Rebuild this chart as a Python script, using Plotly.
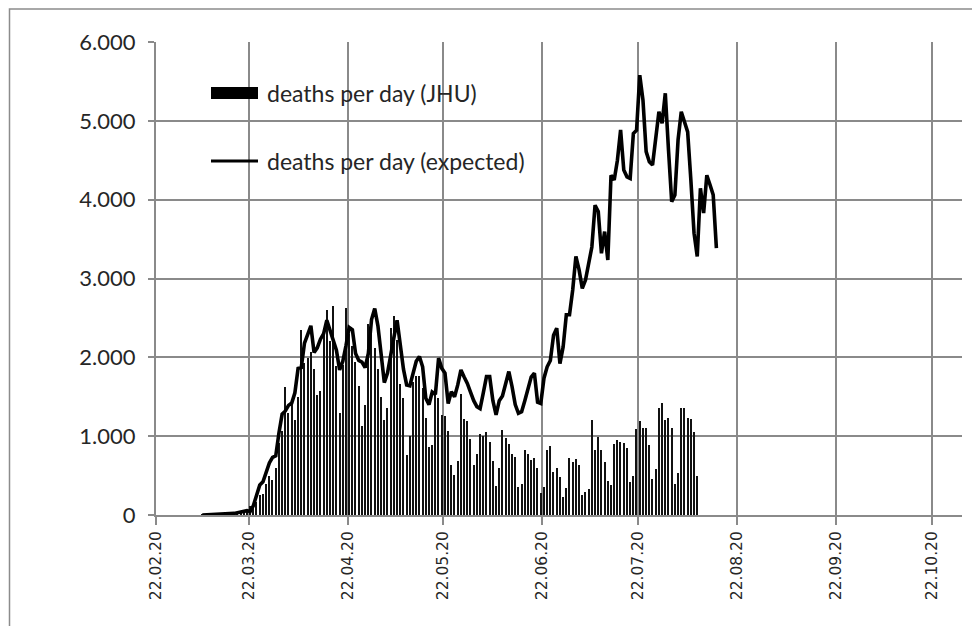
import pandas as pd
import plotly.graph_objects as go

# ---------------- data ----------------
bar_start = "2020-03-07"   # first bar (JHU deaths per day)
jhu_mar = [3, 4, 4, 4, 8, 7, 11, 12, 13, 23, 27, 36, 42, 57, 63, 111, 127, 169, 254, 272, 388, 493, 438, 590, 912]
jhu_apr = [1061, 1620, 1300, 1444, 1202, 1496, 2350, 1922, 1988, 2063, 1856, 1520, 1570, 2358, 2605, 2210, 2646, 1892, 1300, 1905,
           2623, 2294, 2140, 1943, 1637, 1127, 1395, 2418, 2464, 2117]
jhu_may = [1847, 1501, 1209, 1352, 2375, 2527, 2226, 1667, 1484, 765, 1008, 1693, 1759, 1758, 1605, 1236, 865, 887, 1552, 1485,
           1268, 1250, 1067, 634, 506, 691, 1536, 1220, 1197, 965, 638]
jhu_jun = [768, 1028, 1003, 1049, 920, 686, 373, 590, 1077, 978, 903, 780, 731, 358, 395, 830, 768, 697, 723, 593,
           276, 360, 825, 870, 550, 590, 486, 233, 347, 720]
jhu_jul = [677, 710, 635, 254, 288, 330, 1205, 825, 995, 825, 677, 430, 380, 897, 950, 930, 910, 855, 423, 495,
           1087, 1193, 1100, 1100, 888, 453, 580, 1354, 1417, 1205, 1235]
jhu_aug = [1100, 390, 530, 1354, 1354, 1235, 1218, 1057, 495]
jhu_values = jhu_mar + jhu_apr + jhu_may + jhu_jun + jhu_jul + jhu_aug

line_start = "2020-03-07"  # first point of expected deaths
expected_values = [
    0, 1, 2, 3, 4, 6, 8, 10, 12, 15, 20, 30, 40, 45, 55, 45,
    120, 250, 380, 420, 530, 660, 730, 750, 1040, 1280, 1320, 1390, 1420, 1550, 1860,
    1870, 2180, 2300, 2400, 2060, 2120, 2230, 2300, 2470, 2350, 2200, 2090, 1840, 1950, 2150,
    2380, 2350, 2050, 1960, 1940, 1870, 2050, 2480, 2620, 2400, 2000, 1680, 1800, 2000, 2250,
    2470, 2150, 1850, 1650, 1640, 1795, 1950, 2010, 1880, 1480, 1400, 1560, 1530, 1990, 1860,
    1800, 1415, 1565, 1500, 1650, 1840, 1750, 1670, 1560, 1450, 1375, 1350, 1550, 1755, 1755,
    1450, 1270, 1450, 1510, 1650, 1820, 1630, 1400, 1290, 1310, 1450, 1585, 1750, 1800, 1430,
    1415, 1735, 1880, 1960, 2280, 2370, 1920, 2130, 2540, 2540, 2855, 3280, 3110, 2875, 2980,
    3200, 3400, 3930, 3850, 3320, 3595, 3235, 4310, 4250, 4500, 4885, 4375, 4290, 4270, 4840,
    4880, 5580, 5265, 4610, 4480, 4440, 4800, 5115, 4970, 5350, 4630, 3975, 4060, 4760, 5115,
    5000, 4860, 4250, 3575, 3280, 4145, 3830, 4310, 4190, 4060, 3385,
]

series_names = ["deaths per day (JHU)", "deaths per day (expected)"]
y_ticks = [0, 1000, 2000, 3000, 4000, 5000, 6000]
x_range = ["2020-02-22", "2020-10-31 10:00"]
x_tick0 = "2020-02-22"

# dates (each day's value is centred in its day)
bar_dates = pd.date_range(bar_start, periods=len(jhu_values), freq="D") + pd.Timedelta(hours=12)
line_dates = pd.date_range(line_start, periods=len(expected_values), freq="D") + pd.Timedelta(hours=12)

# ---------------- figure ----------------
OFF = 8                      # page body margin of the html page
W, H = 980 - OFF, 626 - OFF
ML, MR, MT, MB = 156 - OFF, 18, 42 - OFF, 111
PW, PH = W - ML - MR, H - MT - MB

def px(x):   # window pixel -> paper fraction
    return (x - OFF - ML) / PW

def py(y):
    return (H - MB - (y - OFF)) / PH

GRID = "#8a8a8a"
TXT = "#262626"

fig = go.Figure()
fig.add_trace(go.Bar(
    x=bar_dates, y=jhu_values, name=series_names[0],
    width=0.38 * 86400000, marker=dict(color="#111111", line=dict(width=0)),
    showlegend=False,
))
fig.add_trace(go.Scatter(
    x=line_dates, y=expected_values, name=series_names[1], mode="lines",
    line=dict(color="#000000", width=3.6), showlegend=False,
))

# legend drawn in the style of the original (wide symbols)
shapes = [
    dict(type="rect", xref="paper", yref="paper", x0=px(211), x1=px(258), y0=py(99), y1=py(87),
         fillcolor="#000000", line=dict(width=0)),
    dict(type="line", xref="paper", yref="paper", x0=px(211), x1=px(258), y0=py(161), y1=py(161),
         line=dict(color="#000000", width=3)),
    # outer chart frame
    dict(type="rect", xref="paper", yref="paper", x0=px(9.5), x1=px(1000), y0=py(660), y1=py(9),
         line=dict(color="#8c8c8c", width=1.5), fillcolor="rgba(0,0,0,0)", layer="below"),
]
annotations = [
    dict(xref="paper", yref="paper", x=px(265), y=py(93), text=series_names[0], showarrow=False,
         xanchor="left", yanchor="middle", font=dict(family="Lato", size=23, color=TXT)),
    dict(xref="paper", yref="paper", x=px(265), y=py(161), text=series_names[1], showarrow=False,
         xanchor="left", yanchor="middle", font=dict(family="Lato", size=23, color=TXT)),
]

fig.update_layout(
    width=W, height=H,
    margin=dict(l=ML, r=MR, t=MT, b=MB, pad=0),
    paper_bgcolor="white", plot_bgcolor="white",
    separators=",.",
    bargap=0,
    shapes=shapes, annotations=annotations,
    showlegend=False,
    xaxis=dict(
        type="date", range=x_range, tick0=x_tick0, dtick="M1", tickformat="%d.%m.%y",
        tickangle=-90, showgrid=True, gridcolor=GRID, gridwidth=2,
        ticks="outside", ticklen=8, tickwidth=2, tickcolor=GRID,
        showline=True, linecolor=GRID, linewidth=2, zeroline=False,
        tickfont=dict(family="DejaVu Sans", size=15.5, color=TXT),
    ),
    yaxis=dict(
        range=[0, 6000], tickvals=y_ticks, tickformat=",d",
        showgrid=True, gridcolor=GRID, gridwidth=2,
        ticks="outside", ticklen=6, tickwidth=2, tickcolor=GRID,
        showline=True, linecolor=GRID, linewidth=2, zeroline=False,
        ticklabelstandoff=8,
        tickfont=dict(family="Lato", size=22, color=TXT),
    ),
)

fig.write_html("out.html")
